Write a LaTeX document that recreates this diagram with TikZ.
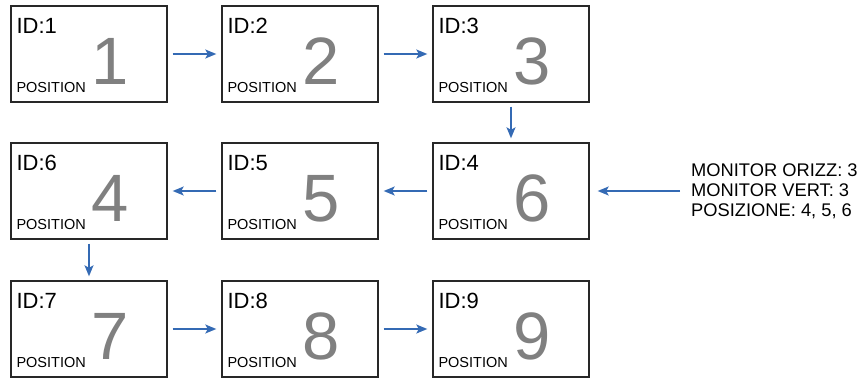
\documentclass[tikz,border=0pt]{standalone}
\usepackage{fontspec}
\setmainfont{Liberation Sans}
\usepackage{tikz}
\usepackage{xcolor}
\usetikzlibrary{arrows.meta}
\definecolor{flowblue}{RGB}{52,106,180}
\definecolor{framegray}{RGB}{40,40,40}
\tikzset{
    screen_box/.style={draw=framegray, line width=1.4pt, minimum width=156pt, minimum height=96pt, inner sep=0pt},
    id_text/.style={anchor=base west, inner sep=0pt, font=\fontsize{22}{22}\selectfont},
    pos_text/.style={anchor=base west, inner sep=0pt, font=\fontsize{14.5}{14.5}\selectfont},
    big_num/.style={anchor=base, inner sep=0pt, text=black!50, font=\fontsize{67}{67}\selectfont},
    flow_arrow/.style={-{Stealth[length=11pt, width=9pt, inset=2.5pt]}, line width=1.4pt, draw=flowblue},
    info_text/.style={anchor=west, align=left, inner sep=0pt, font=\fontsize{18.3}{20}\selectfont}
}
\newcommand{\screenlabels}[3]{%
    \node[id_text] (#1lbl) at ([shift={(6,28)}]#1.north west) {ID:#2};
    \node[pos_text] (#1pos) at ([shift={(6,87)}]#1.north west) {POSITION};
    \node[big_num] (#1num) at ([shift={(100,79)}]#1.north west) {#3};
}

\begin{document}
\begin{tikzpicture}[x=1pt, y=-1pt]
    \useasboundingbox (0,0) rectangle (865,383);
    % row 1
    \node[screen_box] (id1) at (89, 54) {};
    \node[screen_box] (id2) at (300, 54) {};
    \node[screen_box] (id3) at (511, 54) {};
    % row 2
    \node[screen_box] (id6) at (89, 191) {};
    \node[screen_box] (id5) at (300, 191) {};
    \node[screen_box] (id4) at (511, 191) {};
    % row 3
    \node[screen_box] (id7) at (89, 329) {};
    \node[screen_box] (id8) at (300, 329) {};
    \node[screen_box] (id9) at (511, 329) {};
    \screenlabels{id1}{1}{1}
    \screenlabels{id2}{2}{2}
    \screenlabels{id3}{3}{3}
    \screenlabels{id4}{4}{6}
    \screenlabels{id5}{5}{5}
    \screenlabels{id6}{6}{4}
    \screenlabels{id7}{7}{7}
    \screenlabels{id8}{8}{8}
    \screenlabels{id9}{9}{9}
    \node[info_text] (info) at (691, 191) {MONITOR ORIZZ: 3\\MONITOR VERT: 3\\POSIZIONE: 4, 5, 6};
    % order of the positions
    \draw[flow_arrow, shorten <=5pt, shorten >=5pt] (id1) -- (id2);
    \draw[flow_arrow, shorten <=5pt, shorten >=5pt] (id2) -- (id3);
    \draw[flow_arrow, shorten <=4pt, shorten >=4pt] (id3) -- (id4);
    \draw[flow_arrow, shorten <=5pt, shorten >=5pt] (id4) -- (id5);
    \draw[flow_arrow, shorten <=5pt, shorten >=5pt] (id5) -- (id6);
    \draw[flow_arrow, shorten <=4pt, shorten >=4pt] (id6) -- (id7);
    \draw[flow_arrow, shorten <=5pt, shorten >=5pt] (id7) -- (id8);
    \draw[flow_arrow, shorten <=5pt, shorten >=5pt] (id8) -- (id9);
    \draw[flow_arrow, shorten <=11pt, shorten >=8pt] (info.west |- id4.east) -- (id4.east);
\end{tikzpicture}
\end{document}
